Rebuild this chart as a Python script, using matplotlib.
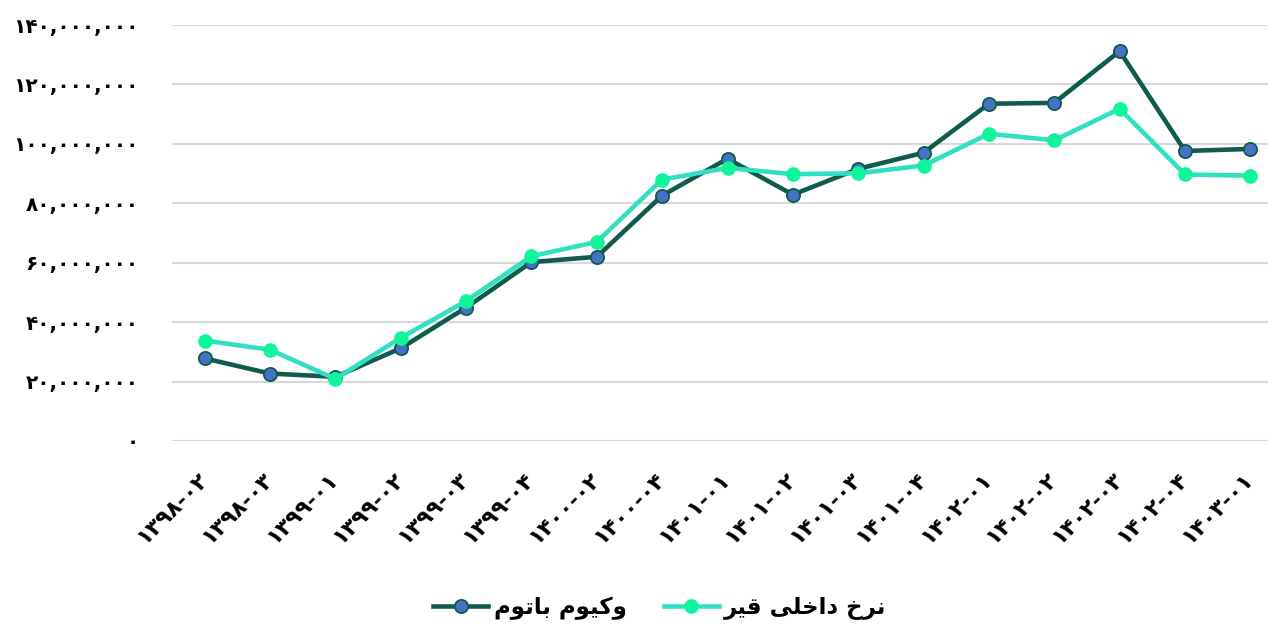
# -*- coding: utf-8 -*-
"""
نمودار مقایسه قیمت وکیوم باتوم و نرخ داخلی قیر (فصلی)
"""
import matplotlib
matplotlib.use("Agg")
import matplotlib.pyplot as plt
from matplotlib.ticker import FuncFormatter, MultipleLocator

plt.rcParams["font.family"] = ["DejaVu Sans"]
plt.rcParams["font.weight"] = "bold"

FA_DIGITS = str.maketrans("0123456789", "۰۱۲۳۴۵۶۷۸۹")

periods = ["1398-02", "1398-03", "1399-01", "1399-02", "1399-03", "1399-04",
           "1400-02", "1400-04", "1401-01", "1401-02", "1401-03", "1401-04",
           "1402-01", "1402-02", "1402-03", "1402-04", "1403-01"]

vacuum_bottom = [27.8, 22.7, 21.6, 31.2, 44.9, 60.2, 62.0, 82.6, 95.0, 82.9,
                 91.6, 97.0, 113.5, 113.8, 131.2, 97.6, 98.3]  # میلیون
bitumen = [33.8, 30.7, 20.9, 34.7, 47.1, 62.2, 67.0, 88.0, 91.9, 89.8,
           90.1, 92.7, 103.4, 101.2, 111.8, 89.7, 89.3]  # میلیون

# متن فارسی با حروف شکل‌یافته و ترتیب دیداری (matplotlib شکل‌دهی عربی ندارد)
label_vacuum = "\uFEE1\uFEEE\uFE97\uFE8E\uFE91 \uFEE1\uFEEE\uFBFF\uFB90\uFEED"   # وکیوم باتوم
label_bitumen = "\uFEAE\uFBFF\uFED7 \uFBFD\uFEE0\uFEA7\uFE8D\uFEA9 \uFEA5\uFEAE\uFEE7"  # نرخ داخلی قیر

DARK = "#0F5B4D"
DARK_MK = "#4472C4"
LIGHT = "#30E0C0"
LIGHT_MK = "#10F59A"

fig = plt.figure(figsize=(12.68, 6.27), dpi=100)
W, H = 1268, 627
ax = fig.add_axes([172 / W, (H - 441) / H, (W - 172) / W, (441 - 25) / H])

x = list(range(len(periods)))
vb = [v * 1e6 for v in vacuum_bottom]
bt = [v * 1e6 for v in bitumen]

ax.plot(x, vb, color=DARK, lw=3.3, marker="o", ms=9.5, mfc=DARK_MK,
        mec=DARK, mew=1.3, label=label_vacuum, zorder=3, solid_joinstyle="round")
ax.plot(x, bt, color=LIGHT, lw=3.3, marker="o", ms=9.5, mfc=LIGHT_MK,
        mec=LIGHT_MK, mew=1.0, label=label_bitumen, zorder=4, solid_joinstyle="round")

ax.set_xlim(-0.5, 16.27)
ax.set_ylim(0, 140e6)
ax.yaxis.set_major_locator(MultipleLocator(20e6))
ax.yaxis.set_major_formatter(FuncFormatter(lambda v, p: f"{int(v):,}".translate(FA_DIGITS)))
ax.grid(axis="y", color="#D9D9D9", lw=1.5)
ax.set_axisbelow(True)
for s in ax.spines.values():
    s.set_visible(False)
ax.tick_params(axis="both", length=0)
ax.tick_params(axis="y", pad=24, labelsize=14.5)

ax.set_xticks(x)
ax.set_xticklabels([p.translate(FA_DIGITS) for p in periods], rotation=45,
                   ha="right", va="center", rotation_mode="anchor", fontsize=16)
ax.tick_params(axis="x", pad=25)

leg = fig.legend(loc="center", bbox_to_anchor=(660 / W, (H - 608) / H), ncol=2,
                 frameon=False, fontsize=16.5, handlelength=2.4, columnspacing=1.6,
                 handletextpad=0.25)

fig.savefig("out.png", dpi=100)
